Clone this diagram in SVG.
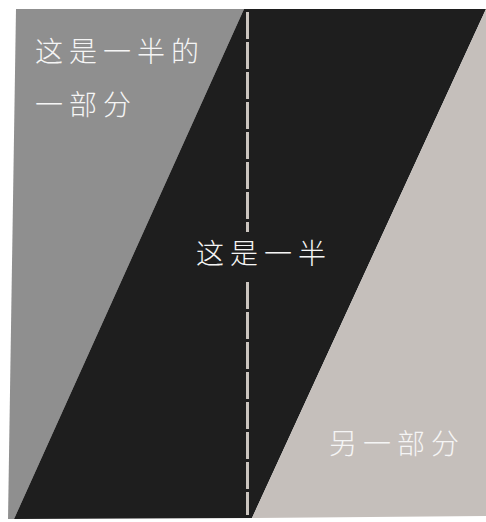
<svg xmlns="http://www.w3.org/2000/svg" width="486" height="522" viewBox="0 0 486 522">
  <style>
    .lbl { font-family: "Noto Sans CJK SC", "Noto Sans", sans-serif; font-size: 28px; font-weight: 300; letter-spacing: 6px; fill: #f5f5f5; }
    .dash { stroke: #cbc5bf; stroke-width: 3; stroke-dasharray: 27 3; fill: none; }
  </style>
  <rect width="486" height="522" fill="#ffffff"/>
  <g id="left-part">
    <polygon points="16,9 244,9 14,519 8,519" fill="#8f8f8f"/>
  </g>
  <g id="middle-half">
    <polygon points="244,9 486,9 252,518 14,519" fill="#1e1e1e"/>
  </g>
  <g id="right-part">
    <polygon points="486,9 486,516 252,518" fill="#c5bfbb"/>
  </g>
  <g id="divider">
    <line class="dash" x1="247.5" y1="12" x2="247.5" y2="232"/>
    <line class="dash" x1="247.5" y1="282" x2="247.5" y2="515"/>
  </g>
  <g id="labels">
    <text class="lbl" x="35" y="62">这是一半的</text>
    <text class="lbl" x="35" y="115">一部分</text>
    <text class="lbl" x="196" y="264">这是一半</text>
    <text class="lbl" x="329" y="454">另一部分</text>
  </g>
</svg>
